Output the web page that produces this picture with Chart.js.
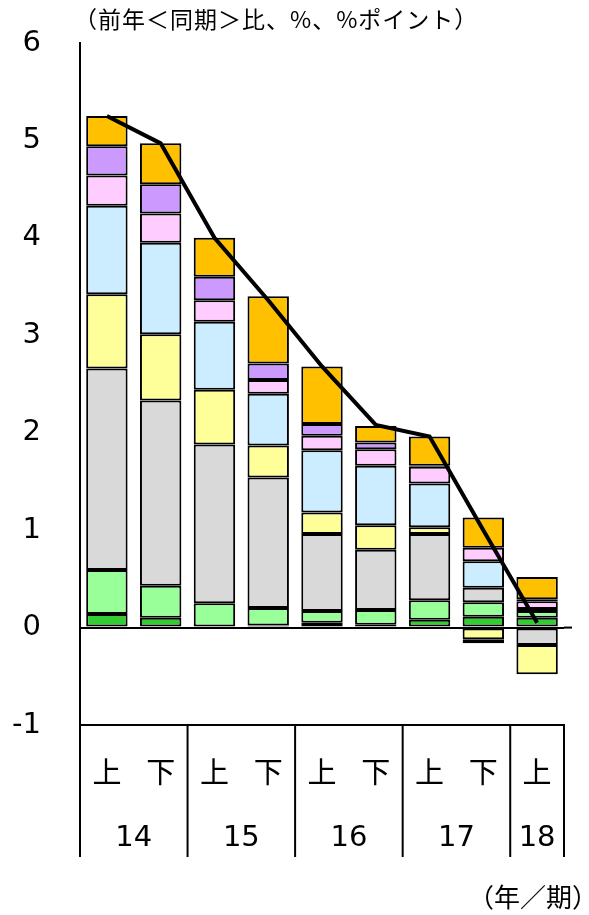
<!DOCTYPE html>
<html>
<head>
<meta charset="utf-8">
<script src="https://cdn.jsdelivr.net/npm/chart.js@4"></script>
<style>
  html, body { margin: 0; padding: 0; background: #fff; }
  #wrap { width: 589px; height: 915px; }
</style>
</head>
<body>
<div id="wrap"><canvas id="barChart" width="589" height="915"></canvas></div>
<script>
// 半期ラベル
const halves = ['上','下','上','下','上','下','上','下','上'];
const years = ['14','15','16','17','18'];
const yearSpan = [2, 2, 2, 2, 1]; // 各年の半期数

// 寄与度（%ポイント）
const darkGreen = [0.14, 0.10, 0.01, 0.02, 0.05, 0.03, 0.08, 0.11, 0.10];
const lightGreen = [0.45, 0.33, 0.24, 0.18, 0.12, 0.15, 0.20, 0.15, 0.07];
const gray = [2.07, 1.90, 1.63, 1.34, 0.79, 0.62, 0.68, 0.15, -0.18];
const yellow = [0.76, 0.68, 0.56, 0.33, 0.22, 0.25, 0.07, -0.12, -0.30];
const blue = [0.91, 0.94, 0.70, 0.53, 0.64, 0.61, 0.45, 0.27, 0.02];
const pink = [0.31, 0.30, 0.22, 0.14, 0.15, 0.17, 0.17, 0.14, 0.08];
const purple = [0.30, 0.30, 0.24, 0.17, 0.12, 0.07, 0.01, -0.04, 0.02];
const orange = [0.31, 0.42, 0.40, 0.69, 0.59, 0.17, 0.30, 0.31, 0.23];
// 前年同期比（%）
const total = [5.25, 4.97, 4.00, 3.36, 2.68, 2.08, 1.96, 1.00, 0.05];

const yTicks = [-1, 0, 1, 2, 3, 4, 5, 6];

const barSeries = [
    { label: '系列1', data: darkGreen, color: '#33CC33' },
    { label: '系列2', data: lightGreen, color: '#99FF99' },
    { label: '系列3', data: gray, color: '#D9D9D9' },
    { label: '系列4', data: yellow, color: '#FFFF99' },
    { label: '系列5', data: blue, color: '#CCECFF' },
    { label: '系列6', data: pink, color: '#FFCCFF' },
    { label: '系列7', data: purple, color: '#CC99FF' },
    { label: '系列8', data: orange, color: '#FFC000' }
];

const datasets = barSeries.map(s => ({
    type: 'bar',
    label: s.label,
    data: s.data,
    backgroundColor: s.color,
    borderColor: '#000',
    borderWidth: 2,
    borderSkipped: false,
    barPercentage: 0.77,
    categoryPercentage: 1,
    order: 1
}));
datasets.push({
    type: 'line',
    label: '前年同期比',
    data: total,
    borderColor: '#000',
    borderWidth: 4,
    pointRadius: 0,
    tension: 0,
    fill: false,
    order: 0
});

const CJK = '"Noto Sans CJK JP", sans-serif';
const NUM = '"DejaVu Sans", Verdana, sans-serif';

// 軸下のラベルと区切り線、単位表示
const axisText = {
    id: 'axisText',
    afterDraw(chart) {
        const ctx = chart.ctx;
        const x = chart.scales.x;
        const area = chart.chartArea;
        const step = x.getPixelForValue(1) - x.getPixelForValue(0);
        const lineBottom = area.bottom + 132;
        ctx.save();
        ctx.strokeStyle = '#000';
        ctx.lineWidth = 2;
        // 区切り線
        let idx = 0;
        const edges = [x.getPixelForValue(0) - step / 2];
        yearSpan.forEach(n => { idx += n; edges.push(x.getPixelForValue(idx - 1) + step / 2); });
        edges.forEach(px => {
            ctx.beginPath();
            ctx.moveTo(px, area.bottom);
            ctx.lineTo(px, lineBottom);
            ctx.stroke();
        });
        // 0 の線を少し右へ延ばす
        const y0 = chart.scales.y.getPixelForValue(0);
        ctx.beginPath();
        ctx.moveTo(area.right, y0);
        ctx.lineTo(area.right + 8, y0);
        ctx.stroke();
        // 上・下
        ctx.fillStyle = '#000';
        ctx.textAlign = 'center';
        ctx.textBaseline = 'middle';
        ctx.font = '29px ' + CJK;
        halves.forEach((h, i) => ctx.fillText(h, x.getPixelForValue(i), area.bottom + 47));
        // 年
        ctx.font = '29px ' + NUM;
        years.forEach((y, i) => ctx.fillText(y, (edges[i] + edges[i + 1]) / 2, area.bottom + 113));
        // 単位
        ctx.font = '26px ' + CJK;
        ctx.textAlign = 'right';
        ctx.fillText('（年／期）', 598, 897);
        ctx.textAlign = 'left';
        ctx.font = '23px ' + CJK;
        ctx.letterSpacing = '1px';
        ctx.fillText('（前年＜同期＞比、%、%ポイント）', 74, 19);
        ctx.restore();
    }
};

const config = {
    data: { labels: halves, datasets: datasets },
    options: {
        responsive: false,
        animation: false,
        layout: { padding: { left: 0, right: 25, top: 43, bottom: 0 } },
        plugins: {
            legend: { display: false },
            tooltip: { enabled: false }
        },
        scales: {
            x: {
                type: 'category',
                stacked: true,
                offset: true,
                ticks: { display: false },
                grid: { drawOnChartArea: false, drawTicks: false },
                border: { display: true, color: '#000', width: 2 },
                afterFit(scale) { scale.height = 190; }
            },
            y: {
                stacked: true,
                min: -1,
                max: 6,
                afterBuildTicks(scale) { scale.ticks = yTicks.map(v => ({ value: v })); },
                ticks: {
                    padding: 39,
                    color: '#000',
                    font: { family: NUM, size: 29, lineHeight: 0.2 }
                },
                grid: {
                    drawTicks: false,
                    color: c => (c.tick && c.tick.value === 0) ? '#000' : 'rgba(0,0,0,0)',
                    lineWidth: 2
                },
                border: { display: true, color: '#000', width: 2 },
                afterFit(scale) { scale.width = 80; }
            }
        }
    },
    plugins: [axisText]
};

const bar = document.getElementById('barChart');
const barChart = new Chart(bar, config);
</script>
</body>
</html>
